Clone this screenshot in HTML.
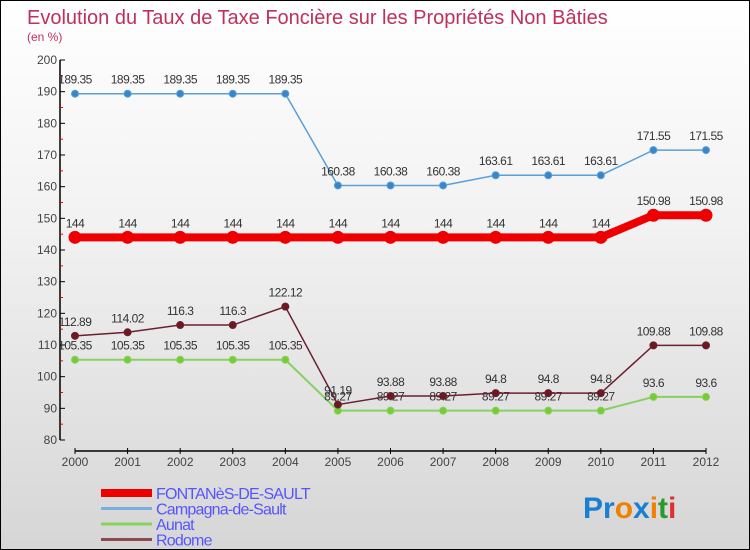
<!DOCTYPE html>
<html><head><meta charset="utf-8"><style>
body{margin:0;}
#wrap{position:relative;width:748px;height:548px;border:1px solid #000;background:linear-gradient(#fff 0%,#f2f2f2 40%,#d6d6d6 100%);overflow:hidden;font-family:"Liberation Sans",sans-serif;}
svg text{font-family:"Liberation Sans",sans-serif;}
</style></head><body>
<div id="wrap">
<svg id="chart" width="748" height="548">
<text x="26" y="23" font-size="20" fill="#c0305a">Evolution du Taux de Taxe Foncière sur les Propriétés Non Bâties</text>
<text x="26" y="40" font-size="12" fill="#c0305a">(en %)</text>
<g id="axes"></g><g id="series"></g><g id="legend"></g>
<text x="582" y="517" font-size="30" font-weight="bold"><tspan fill="#1a7fd0">Pr</tspan><tspan fill="#f08000">o</tspan><tspan fill="#1a7fd0">x</tspan><tspan fill="#f08000">i</tspan><tspan fill="#2a9a2a">t</tspan><tspan fill="#e03030">i</tspan></text>
</svg>
</div>
<script>
const years=["2000","2001","2002","2003","2004","2005","2006","2007","2008","2009","2010","2011","2012"];
const yTicks=[80,90,100,110,120,130,140,150,160,170,180,190,200];
const fontanes=[144,144,144,144,144,144,144,144,144,144,144,150.98,150.98];
const campagna=[189.35,189.35,189.35,189.35,189.35,160.38,160.38,160.38,163.61,163.61,163.61,171.55,171.55];
const aunat=[105.35,105.35,105.35,105.35,105.35,89.27,89.27,89.27,89.27,89.27,89.27,93.6,93.6];
const rodome=[112.89,114.02,116.3,116.3,122.12,91.19,93.88,93.88,94.8,94.8,94.8,109.88,109.88];
const seriesNames=["FONTANèS-DE-SAULT","Campagna-de-Sault","Aunat","Rodome"];
const NS="http://www.w3.org/2000/svg";
function X(i){return 74+i*(631/(years.length-1));}
function Y(v){return 439-(v-80)*(380/120);}
function mk(parent,tag,attrs){const e=document.createElementNS(NS,tag);for(const k in attrs)e.setAttribute(k,attrs[k]);parent.appendChild(e);return e;}
const axes=document.getElementById('axes');
let yl=mk(axes,'line',{x1:59,y1:Y(200),x2:59,y2:Y(80),stroke:'#000','stroke-width':1.5});


yTicks.forEach(t=>{
  const tk=mk(axes,'line',{x1:59,y1:Y(t),x2:64,y2:Y(t),stroke:'#000'});
  
  
  const lb=mk(axes,'text',{x:56,y:Y(t)+4,'text-anchor':'end','font-size':12,fill:'#444'});
  lb.textContent=t;
  
  
  if(t<200){const m=mk(axes,'line',{x1:59,y1:Y(t+5),x2:62,y2:Y(t+5),stroke:'#e00'});
  
  }
});
let xl=mk(axes,'line',{x1:74,y1:450,x2:705,y2:450,stroke:'#000','stroke-width':1.5});


years.forEach((y,i)=>{
  const tk=mk(axes,'line',{x1:X(i),y1:447,x2:X(i),y2:453,stroke:'#000'});
  
  
  const lb=mk(axes,'text',{x:X(i),y:465,'text-anchor':'middle','font-size':12,fill:'#444'});
  lb.textContent=y;
  
  
});
const sg=document.getElementById('series');
function drawSeries(vals,color,dot,w,r,name,labels){
  const g=mk(sg,'g',{});
  
  
  const pts=vals.map((v,i)=>X(i)+','+Y(v)).join(' ');
  const pl=mk(g,'polyline',{points:pts,fill:'none',stroke:color,'stroke-width':w});
  
  
  vals.forEach((v,i)=>{
    const c=mk(g,'circle',{cx:X(i),cy:Y(v),r:r,fill:dot,stroke:color,'stroke-width':1});
    
    
    if(labels){const t=mk(g,'text',{x:X(i),y:Y(v)-10,'text-anchor':'middle','font-size':12,fill:'#333','letter-spacing':'-0.5'});
    t.textContent=String(v);
    
    }
  });
}
drawSeries(aunat,'#88d060','#77cc33',2,3.5,'aunat-series',true);
drawSeries(rodome,'#6b2030','#6b1a20',1.5,3.5,'rodome-series',true);
drawSeries(campagna,'#5a9fd8','#3a85c8',1.5,3.5,'campagna-series',true);
drawSeries(fontanes,'#ee0000','#ee0000',8,6,'fontanes-series',true);
const lg=document.getElementById('legend');
const lcol=['#ee0000','#7aaedc','#88d060','#8b4a50'];const lw=[8,3,3,3];
seriesNames.forEach((n,i)=>{
  const yy=492+i*15.5;
  const l=mk(lg,'line',{x1:100,y1:yy,x2:151,y2:yy,stroke:lcol[i],'stroke-width':lw[i]});
  
  
  const t=mk(lg,'text',{x:155,y:yy+6,'font-size':16,fill:'#5555ff','letter-spacing':'-0.8'});
  t.textContent=n;
  
  
});
</script>
</body></html>
